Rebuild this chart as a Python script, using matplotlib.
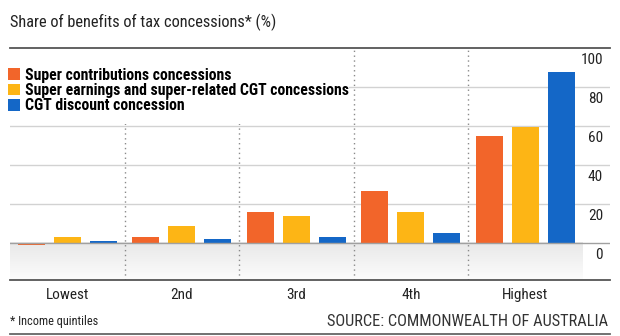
import numpy as np
import matplotlib
matplotlib.use("Agg")
import matplotlib.pyplot as plt
from matplotlib.patches import Rectangle
from matplotlib.lines import Line2D
from matplotlib.transforms import ScaledTranslation

plt.rcParams['font.family'] = ['Roboto Condensed', 'Liberation Sans Narrow', 'Roboto', 'DejaVu Sans']

quintiles = ["Lowest", "2nd", "3rd", "4th", "Highest"]
series = ["Super contributions concessions",
          "Super earnings and super-related CGT concessions",
          "CGT discount concession"]
contrib = [-0.8, 2.8, 15.8, 26.8, 55.0]
earnings = [2.8, 8.9, 14.0, 15.8, 59.6]
cgt = [0.9, 1.8, 2.8, 4.9, 87.7]
colors = ["#F2652A", "#FDB515", "#1467C7"]
yticks = [0, 20, 40, 60, 80, 100]

W, H = 620, 336
fig = plt.figure(figsize=(W/100, H/100), dpi=100)
ax = fig.add_axes([10/W, 1-280/H, 600/W, 232/H])

x = np.arange(len(quintiles))
bw = 0.236
off = 0.314
for i, vals in enumerate([contrib, earnings, cgt]):
    ax.bar(x + (i-1)*off, vals, bw, color=colors[i], zorder=3, label=series[i])

# gray shade below zero, darker near the zero line
g = np.linspace(0.91, 0.99, 60)
grad = np.dstack([g, g, g]).reshape(-1, 1, 3)
ax.imshow(grad, extent=(-0.5, 4.5, -19, 0), aspect='auto', origin='upper', zorder=0)
ax.set_xlim(-0.5, 4.74)
ax.set_ylim(-19, 100)

for yv in yticks[1:-1]:
    ax.axhline(yv, color="#d2d2d2", lw=1, zorder=1)
ax.axhline(0, color="#a0a0a0", lw=1, zorder=4)
ax.axhline(100, color="#555555", lw=1.3, zorder=6, clip_on=False)

for s in [0.5, 1.5, 2.5, 3.5]:
    ax.axvline(s, color="#8a8a8a", lw=1, ls=(0, (1, 2.5)), zorder=2)

for sp in ["top", "left", "right"]:
    ax.spines[sp].set_visible(False)
ax.spines["bottom"].set_color("#555555")
ax.spines["bottom"].set_linewidth(1.3)

ax.set_xticks(x)
ax.set_xticklabels(quintiles, fontsize=11, color="#222222")
ax.tick_params(axis='x', length=0, pad=6)

ax.set_yticks(yticks)
ax.tick_params(axis='y', left=False, right=False, labelleft=False, labelright=True,
               length=0, pad=-5, labelsize=11, labelcolor="#222222")
for lab in ax.get_yticklabels():
    lab.set_ha('right')
    lab.set_transform(lab.get_transform() + ScaledTranslation(0, -11/100, fig.dpi_scale_trans))

# white box behind the legend
ax.add_patch(Rectangle((-0.5, 61), 2.96, 39, facecolor="white", edgecolor="none", zorder=5))
leg = ax.legend(loc="upper left", bbox_to_anchor=(-0.003, 0.915), frameon=False,
                handlelength=0.75, handleheight=0.75, handletextpad=0.3,
                labelspacing=0.02, borderaxespad=0, borderpad=0,
                prop={'size': 11.3, 'weight': 'bold'})
leg.set_zorder(7)

fig.text(10/W, 1-22/H, "Share of benefits of tax concessions* (%)", fontsize=11.8,
         color="#222222", va="center", ha="left")
fig.text(10/W, 1-321/H, "* Income quintiles", fontsize=8.8, color="#222222",
         va="center", ha="left")
fig.text(608/W, 1-321/H, "SOURCE: COMMONWEALTH OF AUSTRALIA", fontsize=11.8,
         color="#333333", va="center", ha="right")
fig.add_artist(Line2D([10/W, 610/W], [1-334/H, 1-334/H], color="#666666", lw=1.3))

fig.savefig("out.png", dpi=100)
